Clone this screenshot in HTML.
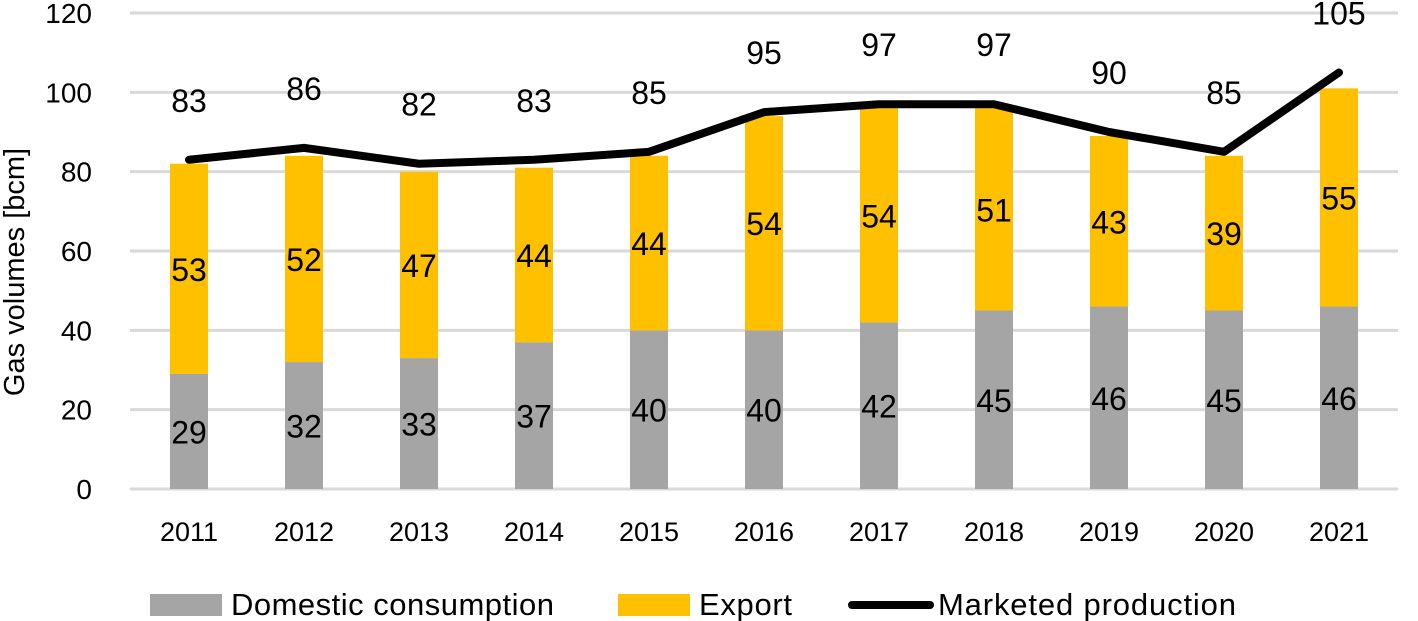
<!DOCTYPE html>
<html><head><meta charset="utf-8">
<style>
body{margin:0;background:#fff;}
svg{display:block;font-family:"Liberation Sans",sans-serif;}
</style></head>
<body>
<svg id="chart" width="1418" height="621" viewBox="0 0 1418 621">
<text transform="translate(24,272) rotate(-90)" text-anchor="middle" font-size="29" fill="#000">Gas volumes [bcm]</text>
<g id="grid"></g><g id="bars"></g><g id="line"></g><g id="labels"></g>
<g>
<rect x="150" y="594" width="72" height="22" fill="#a5a5a5"/>
<text x="231" y="615" font-size="31" textLength="323">Domestic consumption</text>
<rect x="618" y="594" width="72" height="22" fill="#ffc000"/>
<text x="699" y="615" font-size="31" textLength="93">Export</text>
<line x1="852" y1="605" x2="930" y2="605" stroke="#000" stroke-width="8" stroke-linecap="round"/>
<text x="938" y="615" font-size="31" textLength="298">Marketed production</text>
</g>
</svg>
<script>
const years=["2011","2012","2013","2014","2015","2016","2017","2018","2019","2020","2021"];
const domestic=[29,32,33,37,40,40,42,45,46,45,46];
const exportV=[53,52,47,44,44,54,54,51,43,39,55];
const production=[83,86,82,83,85,95,97,97,90,85,105];
const yTicks=[0,20,40,60,80,100,120];
const NS="http://www.w3.org/2000/svg";
const y0=489,yTop=13,yMax=120;
function Y(v){return y0-(v/yMax)*(y0-yTop);}
function X(i){return 189+i*115;}
function mk(tag,attrs,parent,txt){const e=document.createElementNS(NS,tag);for(const k in attrs)e.setAttribute(k,attrs[k]);if(txt!==undefined)e.textContent=txt;parent.appendChild(e);return e;}
const grid=document.getElementById('grid'),bars=document.getElementById('bars'),lineG=document.getElementById('line'),labels=document.getElementById('labels');
yTicks.forEach(t=>{
 const l=mk('line',{x1:130,x2:1398,y1:Y(t),y2:Y(t),stroke:'#d9d9d9','stroke-width':3},grid);
 
 
 const tx=mk('text',{x:92,y:Y(t)+10,'text-anchor':'end','font-size':28},grid,t);
 
 
});
const bw=38;
years.forEach((yr,i)=>{
 const x=X(i);
 const d=mk('rect',{x:x-bw/2,y:Y(domestic[i]),width:bw,height:Y(0)-Y(domestic[i]),fill:'#a5a5a5'},bars);
 
 
 const e=mk('rect',{x:x-bw/2,y:Y(domestic[i]+exportV[i]),width:bw,height:Y(domestic[i])-Y(domestic[i]+exportV[i]),fill:'#ffc000'},bars);
 
 
 const xl=mk('text',{x:x,y:541,'text-anchor':'middle','font-size':27},labels,yr);
 
 
 const dl=mk('text',{x:x,y:(Y(0)+Y(domestic[i]))/2+12,'text-anchor':'middle','font-size':32},labels,domestic[i]);
 
 
 const el=mk('text',{x:x,y:(Y(domestic[i])+Y(domestic[i]+exportV[i]))/2+12,'text-anchor':'middle','font-size':32},labels,exportV[i]);
 
 
 const pl=mk('text',{x:x,y:Y(production[i])-48,'text-anchor':'middle','font-size':32},labels,production[i]);
 
 
});
const pts=production.map((v,i)=>X(i)+','+Y(v)).join(' ');
const pl=mk('polyline',{points:pts,fill:'none',stroke:'#000','stroke-width':8,'stroke-linecap':'round','stroke-linejoin':'round'},lineG);


</script>
</body></html>
